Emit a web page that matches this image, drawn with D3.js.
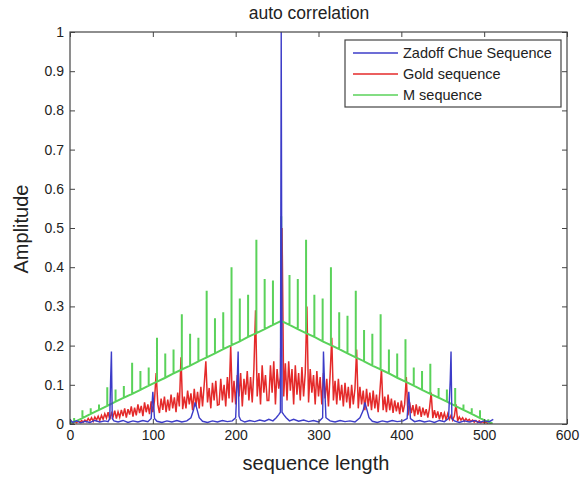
<!DOCTYPE html>
<html>
<head>
<meta charset="utf-8">
<script src="https://cdn.jsdelivr.net/npm/d3@7/dist/d3.min.js"></script>
<style>
body { margin: 0; background: #fff; }
text { font-family: "Liberation Sans", Arial, sans-serif; fill: #222; }
</style>
</head>
<body>
<div id="chart"></div>
<script>
var width = 584;
var height = 479;

// tick labels
var xTicks = [0, 100, 200, 300, 400, 500, 600];
var yTicks = [0, 0.1, 0.2, 0.3, 0.4, 0.5, 0.6, 0.7, 0.8, 0.9, 1];
var yTickLabels = ["0", "0.1", "0.2", "0.3", "0.4", "0.5", "0.6", "0.7", "0.8", "0.9", "1"];

var seriesNames = ["Zadoff Chue Sequence", "Gold sequence", "M sequence"];
var seriesColors = ["#3c3cc8", "#e42a2a", "#5ad25a"];

// Zadoff Chu: [lag, amplitude]
var zadoffPoints = [
  [0,0.012],[3,0.004],[8,0.008],[13,0.003],[18,0.007],[24,0.004],[30,0.009],[36,0.005],[42,0.008],
  [46,0.006],[48,0.014],[49,0.11],[50,0.185],[51,0.014],[53,0.008],[58,0.005],[64,0.009],[70,0.004],
  [76,0.008],[82,0.005],[88,0.009],[94,0.006],[98,0.014],[100,0.082],[101,0.05],[102,0.014],[105,0.007],
  [111,0.004],[117,0.008],[123,0.005],[129,0.009],[135,0.005],[141,0.008],[146,0.016],[149,0.035],
  [151,0.055],[153,0.04],[156,0.016],[160,0.007],[166,0.004],[172,0.008],[178,0.005],[184,0.009],
  [190,0.006],[196,0.008],[200,0.016],[202,0.12],[203,0.185],[204,0.02],[206,0.01],[211,0.005],
  [217,0.009],[223,0.006],[229,0.01],[235,0.007],[240,0.012],[245,0.008],[249,0.016],[252,0.024],
  [254,0.03],[255,1.0],[256,0.03],[258,0.024],[261,0.016],[265,0.008],[270,0.012],[276,0.007],
  [282,0.01],[288,0.006],[294,0.009],[300,0.005],[305,0.016],[306,0.185],[307,0.12],[309,0.016],
  [314,0.008],[320,0.005],[326,0.009],[332,0.006],[338,0.008],[344,0.005],[350,0.016],[354,0.035],
  [356,0.055],[358,0.04],[361,0.016],[365,0.007],[371,0.004],[377,0.008],[383,0.005],[389,0.009],
  [395,0.006],[402,0.008],[407,0.014],[408,0.05],[409,0.082],[411,0.014],[416,0.006],[422,0.009],
  [428,0.005],[434,0.008],[440,0.004],[446,0.009],[452,0.006],[457,0.014],[459,0.11],[460,0.185],
  [461,0.014],[464,0.008],[470,0.004],[476,0.008],[482,0.005],[488,0.009],[494,0.004],[500,0.008],
  [506,0.006],[511,0.012]
];

// Gold sequence, one value every 2 lags from 0 to 510
var goldStep = 2;
var goldValues = [
  0, .004, .002, .006, .003, .008, .004, .009, .005, .01,
  .006, .014, .008, .016, .007, .018, .01, .02, .009, .022,
  .012, .026, .015, .03, .011, .028, .018, .034, .014, .031,
  .017, .036, .02, .04, .016, .038, .024, .045, .019, .042,
  .022, .05, .028, .046, .02, .055, .03, .05, .025, .058,
  .03, .06, .13, .05, .028, .065, .036, .07, .03, .062,
  .034, .075, .04, .068, .03, .08, .045, .17, .038, .07,
  .04, .085, .05, .078, .035, .09, .045, .082, .04, .095,
  .045, .1, .16, .055, .092, .04, .105, .06, .11, .048,
  .05, .115, .06, .1, .045, .12, .065, .2, .055, .11,
  .05, .125, .07, .13, .045, .115, .075, .135, .06, .12,
  .055, .14, .29, .07, .13, .05, .15, .08, .125, .06,
  .06, .15, .08, .16, .05, .14, .09, .12, .5, .07,
  .155, .06, .16, .085, .14, .05, .15, .075, .13, .06,
  .145, .07, .13, .3, .055, .14, .08, .125, .05, .135,
  .07, .12, .05, .13, .065, .115, .045, .125, .22, .06,
  .11, .05, .115, .06, .1, .045, .105, .055, .095, .04,
  .1, .05, .09, .19, .04, .095, .05, .085, .035, .09,
  .045, .08, .035, .085, .04, .075, .03, .08, .14, .035,
  .07, .03, .075, .035, .065, .028, .06, .032, .055, .025,
  .06, .03, .05, .12, .022, .055, .028, .048, .02, .05,
  .024, .045, .018, .042, .022, .038, .016, .04, .08, .015,
  .035, .016, .032, .012, .03, .014, .028, .01, .026, .012,
  .022, .01, .02, .05, .008, .018, .01, .016, .007, .014,
  .008, .012, .006, .01, .005, .009, .004, .008, .003, .006,
  .003, .005, .002, .004, .001, 0
];

// M sequence: triangular floor vertices and spikes [lag, floor, peak]
var mFloor = [[0, 0.002], [255, 0.263], [510, 0.002]];
var mSpikes = [
  [5,.005,.015],[15,.015,.035],[25,.026,.04],[35,.036,.05],[45,.046,.094],[55,.057,.088],[65,.067,.097],
  [75,.077,.156],[85,.087,.135],[95,.098,.144],[105,.108,.22],[115,.118,.18],[125,.129,.19],
  [135,.139,.28],[145,.149,.23],[155,.16,.22],[165,.17,.34],[175,.18,.27],[185,.191,.285],
  [195,.201,.40],[205,.211,.32],[215,.222,.33],[225,.232,.47],[235,.242,.37],[245,.253,.366],
  [255,.263,.53],[265,.253,.38],[275,.242,.37],[285,.232,.47],[295,.222,.33],[305,.211,.32],
  [315,.201,.40],[325,.191,.285],[335,.18,.276],[345,.17,.34],[355,.16,.24],[365,.149,.23],
  [375,.139,.28],[385,.129,.19],[395,.118,.18],[405,.108,.216],[415,.098,.144],[425,.087,.135],
  [435,.077,.154],[445,.067,.092],[455,.057,.088],[465,.046,.092],[475,.036,.05],[485,.026,.04],
  [495,.015,.035],[505,.005,.012]
];

var x = d3.scaleLinear().domain([0, 600]).range([70, 567]);
var y = d3.scaleLinear().domain([0, 1]).range([424, 32]);

var svg = d3.select("#chart").append("svg")
  .attr("width", width)
  .attr("height", height);

var plot = svg.append("g");

svg.append("clipPath").attr("id", "clip")
  .append("rect")
  .attr("x", x(0)).attr("y", y(1))
  .attr("width", x(600) - x(0)).attr("height", y(0) - y(1));

var line = d3.line()
  .x(function(d) { return x(d[0]); })
  .y(function(d) { return y(d[1]); });

// gold series
var goldPoints = goldValues.map(function(v, i) { return [i * goldStep, v]; });

// m series: floor with spikes sitting on it
var mPoints = [mFloor[0]];
mSpikes.forEach(function(s) {
  mPoints.push([s[0], s[1]], [s[0], s[2]], [s[0], s[1]]);
});
mPoints.push(mFloor[2]);

plot.append("path")
  .datum(goldPoints)
  .attr("fill", "none")
  .attr("stroke", seriesColors[1])
  .attr("stroke-width", 1.5)
  .attr("stroke-linejoin", "miter")
  .attr("clip-path", "url(#clip)")
  .attr("d", line);

plot.append("path")
  .datum(mPoints)
  .attr("fill", "none")
  .attr("stroke", seriesColors[2])
  .attr("stroke-width", 2)
  .attr("clip-path", "url(#clip)")
  .attr("d", line);

plot.append("path")
  .datum(zadoffPoints)
  .attr("fill", "none")
  .attr("stroke", seriesColors[0])
  .attr("stroke-width", 1.4)
  .attr("clip-path", "url(#clip)")
  .attr("d", line);

// axes, ticks pointing inward on all sides
var axisColor = "#444";

var gx = svg.append("g")
  .attr("transform", "translate(0," + y(0) + ")")
  .call(d3.axisBottom(x).tickValues(xTicks).tickSize(-5).tickPadding(6).tickFormat(d3.format("d")));
var gxTop = svg.append("g")
  .attr("transform", "translate(0," + y(1) + ")")
  .call(d3.axisTop(x).tickValues(xTicks).tickSize(-5).tickFormat(""));
var gy = svg.append("g")
  .attr("transform", "translate(" + x(0) + ",0)")
  .call(d3.axisLeft(y).tickValues(yTicks).tickSize(-5).tickPadding(6)
    .tickFormat(function(d, i) { return yTickLabels[i]; }));
var gyRight = svg.append("g")
  .attr("transform", "translate(" + x(600) + ",0)")
  .call(d3.axisRight(y).tickValues(yTicks).tickSize(-5).tickFormat(""));

[gx, gxTop, gy, gyRight].forEach(function(g) {
  g.select(".domain").remove();
  g.selectAll("line").attr("stroke", axisColor);
  g.selectAll("text").style("font-size", "14px").attr("fill", "#333");
});

svg.append("rect")
  .attr("x", x(0)).attr("y", y(1))
  .attr("width", x(600) - x(0)).attr("height", y(0) - y(1))
  .attr("fill", "none")
  .attr("stroke", axisColor)
  .attr("stroke-width", 1.2);

// titles
svg.append("text")
  .attr("x", 309).attr("y", 19)
  .attr("text-anchor", "middle")
  .style("font-size", "17.5px")
  .text("auto correlation");

svg.append("text")
  .attr("x", 316).attr("y", 470)
  .attr("text-anchor", "middle")
  .style("font-size", "20px")
  .text("sequence length");

svg.append("text")
  .attr("transform", "translate(28,229) rotate(-90)")
  .attr("text-anchor", "middle")
  .style("font-size", "20px")
  .text("Amplitude");

// legend
var legend = svg.append("g").attr("transform", "translate(345,40)");
legend.append("rect")
  .attr("width", 216).attr("height", 67)
  .attr("fill", "#fff")
  .attr("stroke", axisColor)
  .attr("stroke-width", 1.2);

seriesNames.forEach(function(name, i) {
  var row = legend.append("g").attr("transform", "translate(0," + (13 + i * 21) + ")");
  row.append("line")
    .attr("x1", 8).attr("x2", 53)
    .attr("stroke", seriesColors[i])
    .attr("stroke-width", 1.4);
  row.append("text")
    .attr("x", 58).attr("y", 5)
    .style("font-size", "14.5px")
    .text(name);
});
</script>
</body>
</html>
